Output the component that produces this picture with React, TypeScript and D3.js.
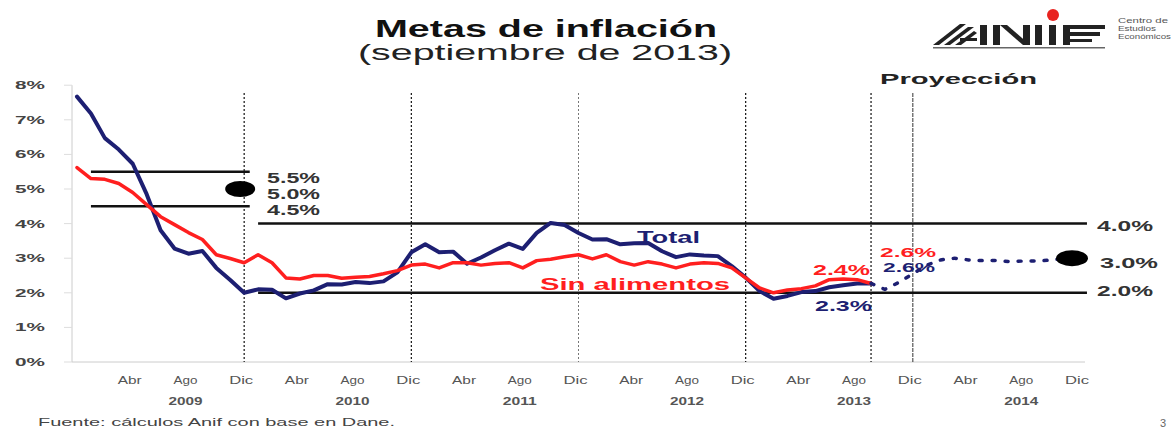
import React from "react";
import * as d3 from "d3";

// Month index k: 0 = Dic 2008 ... 72 = Dic 2014
const totalInflation: number[] = [
  7.67,
  7.18, 6.47, 6.14, 5.73, 4.85, 3.81, 3.28, 3.13, 3.21, 2.72, 2.37, 2.0,
  2.1, 2.09, 1.84, 1.98, 2.07, 2.25, 2.24, 2.31, 2.28, 2.33, 2.59, 3.17,
  3.4, 3.17, 3.19, 2.84, 3.02, 3.23, 3.42, 3.27, 3.73, 4.02, 3.96, 3.73,
  3.54, 3.55, 3.4, 3.43, 3.44, 3.2, 3.03, 3.11, 3.08, 3.06, 2.77, 2.44,
  2.05, 1.83, 1.91, 2.02, 2.05, 2.16, 2.22, 2.27, 2.27,
];
const coreInflation: number[] = [
  5.62,
  5.3, 5.28, 5.16, 4.9, 4.55, 4.2, 3.97, 3.74, 3.54, 3.1, 2.99, 2.87,
  3.1, 2.87, 2.43, 2.4, 2.5, 2.5, 2.42, 2.45, 2.47, 2.55, 2.64, 2.8,
  2.83, 2.72, 2.87, 2.87, 2.8, 2.85, 2.87, 2.72, 2.93, 2.97, 3.04, 3.1,
  2.98, 3.1, 2.9, 2.8, 2.9, 2.83, 2.72, 2.83, 2.87, 2.85, 2.72, 2.43,
  2.14, 2.0, 2.08, 2.12, 2.2, 2.38, 2.4, 2.38, 2.27,
];
const projectionStart = 57;
const projection: number[] = [
  2.27, 2.1, 2.3, 2.55, 2.8, 2.95, 3.0, 2.95, 2.93, 2.93, 2.9, 2.92, 2.92, 2.95, 3.0, 3.0,
];
const years: number[] = [2009, 2010, 2011, 2012, 2013, 2014];
const monthLabels: string[] = ["Abr", "Ago", "Dic"];
const monthOffsets: number[] = [4, 8, 12];
const yTicks: number[] = [0, 1, 2, 3, 4, 5, 6, 7, 8];
const verticalMarks: number[] = [12, 24, 36, 48, 57, 60];
const band2009 = { from: 1, to: 12.4, low: 4.5, mid: 5.0, high: 5.5 };
const bandLongTerm = { from: 13, to: 72.5, low: 2.0, mid: 3.0, high: 4.0 };

const NAVY = "#1d1f72";
const RED = "#ff1f1f";
const FONT = "'Liberation Sans', Arial, sans-serif";

export default function App() {
  const W = 1171;
  const H = 428;
  const x = d3.scaleLinear().domain([0, 72]).range([77, 1080]);
  const y = d3.scaleLinear().domain([0, 8]).range([362, 85.2]);
  const line = (start: number) =>
    d3
      .line<number>()
      .x((_, i) => x(i + start))
      .y((d) => y(d))
      .curve(d3.curveLinear);

  const vStyle = (i: number) => {
    if (i === 2) return { stroke: "#777", dash: "2,2", w: 1 };
    if (i === 5) return { stroke: "#333", dash: "4,1", w: 1 };
    return { stroke: "#111", dash: "2,2", w: 1.2 };
  };

  const T = (props: any) => (
    <text fontFamily={FONT} lengthAdjust="spacingAndGlyphs" {...props} />
  );

  return (
    <svg width={W} height={H} style={{ position: "absolute", left: 0, top: 0, background: "#fff" }}>
      <rect width={W} height={H} fill="#fff" />
      {/* Title */}
      <T x={375} y={37} fontSize={23} fontWeight="bold" fill="#111" textLength={342}>
        Metas de inflación
      </T>
      <T x={358} y={60} fontSize={22} fill="#222" textLength={374}>
        (septiembre de 2013)
      </T>

      {/* Logo */}
      <g fill="#222" stroke="none">
        <polygon points="933,45 960,24 966,24 939,45" />
        <polygon points="944,45 968,27 974,27 950,45" />
        <polygon points="955,45 974,31 977,33 961,45" />
        <rect x={960} y={38} width={17} height={3} />
        <rect x={980} y={25} width={7} height={20} />
        <rect x={993} y={25} width={7} height={20} />
        <polygon points="1000,25 1007,25 1030,45 1023,45" />
        <rect x={1023} y={25} width={7} height={20} />
        <rect x={1035} y={25} width={7} height={20} />
        <rect x={1049} y={25} width={7} height={20} />
        <rect x={1063} y={25} width={7} height={20} />
        <rect x={1070} y={25} width={35} height={4} />
        <rect x={1070} y={32} width={30} height={4} />
        <rect x={1070} y={39} width={22} height={3} />
        <circle cx={1053} cy={15} r={6} fill="#e8231f" />
        <rect x={933} y={47} width={172} height={1.5} fill="#666" />
      </g>
      <T x={1118} y={23} fontSize={7} fill="#555" textLength={50}>Centro de</T>
      <T x={1118} y={31} fontSize={7} fill="#555" textLength={38}>Estudios</T>
      <T x={1118} y={39} fontSize={7} fill="#555" textLength={53}>Económicos</T>

      {/* Y axis */}
      <line x1={72} x2={72} y1={y(8)} y2={y(0)} stroke="#ccc" strokeWidth={1} />
      {yTicks.map((t) => (
        <g key={t}>
          <line x1={64} x2={72} y1={y(t)} y2={y(t)} stroke="#ddd" />
          <T x={15} y={y(t) + 4} fontSize={11} fontWeight="bold" fill="#444" textLength={30}>
            {`${t}%`}
          </T>
        </g>
      ))}
      {/* X axis */}
      <line x1={72} x2={1085} y1={y(0)} y2={y(0)} stroke="#ccc" strokeWidth={1} />
      {years.map((yr, yi) => (
        <g key={yr}>
          {monthLabels.map((m, mi) => {
            const k = yi * 12 + monthOffsets[mi];
            return (
              <T key={m} x={x(k) - 3} y={384} fontSize={11} fill="#555" textAnchor="middle" textLength={24}>
                {m}
              </T>
            );
          })}
          <T x={x(yi * 12 + 8) - 3} y={405} fontSize={11} fontWeight="bold" fill="#555" textAnchor="middle" textLength={34}>
            {String(yr)}
          </T>
        </g>
      ))}

      {/* Vertical marks */}
      {verticalMarks.map((k, i) => {
        const s = vStyle(i);
        return (
          <line key={k} x1={x(k)} x2={x(k)} y1={93} y2={y(0)} stroke={s.stroke} strokeWidth={s.w} strokeDasharray={s.dash} />
        );
      })}

      {/* Target bands */}
      <line x1={x(band2009.from)} x2={x(band2009.to)} y1={y(band2009.high)} y2={y(band2009.high)} stroke="#111" strokeWidth={2.5} />
      <line x1={x(band2009.from)} x2={x(band2009.to)} y1={y(band2009.low)} y2={y(band2009.low)} stroke="#111" strokeWidth={2.5} />
      <ellipse cx={x(12) - 4} cy={y(band2009.mid)} rx={15} ry={8} fill="#000" />
      <line x1={x(bandLongTerm.from)} x2={x(bandLongTerm.to)} y1={y(bandLongTerm.high)} y2={y(bandLongTerm.high)} stroke="#111" strokeWidth={2.5} />
      <line x1={x(bandLongTerm.from)} x2={x(bandLongTerm.to)} y1={y(bandLongTerm.low)} y2={y(bandLongTerm.low)} stroke="#111" strokeWidth={2.5} />

      <T x={267} y={183} fontSize={14} fontWeight="bold" fill="#333" textLength={53}>5.5%</T>
      <T x={267} y={199} fontSize={14} fontWeight="bold" fill="#333" textLength={53}>5.0%</T>
      <T x={267} y={215} fontSize={14} fontWeight="bold" fill="#333" textLength={53}>4.5%</T>
      <T x={1097} y={231} fontSize={14} fontWeight="bold" fill="#333" textLength={56}>4.0%</T>
      <T x={1100} y={268} fontSize={14} fontWeight="bold" fill="#333" textLength={58}>3.0%</T>
      <T x={1097} y={296} fontSize={14} fontWeight="bold" fill="#333" textLength={56}>2.0%</T>

      {/* Series */}
      <path d={line(0)(totalInflation) || ""} fill="none" stroke={NAVY} strokeWidth={4} strokeLinejoin="round" strokeLinecap="round" />
      <path d={line(0)(coreInflation) || ""} fill="none" stroke={RED} strokeWidth={3.5} strokeLinejoin="round" strokeLinecap="round" />
      <path d={line(projectionStart)(projection) || ""} fill="none" stroke={NAVY} strokeWidth={3.5} strokeDasharray="3,10" strokeLinecap="round" />
      <ellipse cx={x(72) - 8} cy={y(projection[projection.length - 1])} rx={16} ry={8} fill="#000" />

      {/* Annotations */}
      <T x={637} y={243} fontSize={16} fontWeight="bold" fill={NAVY} textLength={63}>Total</T>
      <T x={540} y={290} fontSize={16} fontWeight="bold" fill={RED} textLength={190}>Sin alimentos</T>
      <T x={813} y={275} fontSize={14} fontWeight="bold" fill={RED} textLength={57}>2.4%</T>
      <T x={815} y={311} fontSize={14} fontWeight="bold" fill={NAVY} textLength={57}>2.3%</T>
      <T x={880} y={257} fontSize={13} fontWeight="bold" fill={RED} textLength={56}>2.6%</T>
      <T x={883} y={272} fontSize={13} fontWeight="bold" fill={NAVY} textLength={52}>2.6%</T>
      <T x={880} y={84} fontSize={15} fontWeight="bold" fill="#222" textLength={157}>Proyección</T>

      {/* Footer */}
      <T x={38} y={426} fontSize={11} fill="#444" textLength={357}>Fuente: cálculos Anif con base en Dane.</T>
      <T x={1160} y={427} fontSize={11} fill="#666">3</T>
    </svg>
  );
}
